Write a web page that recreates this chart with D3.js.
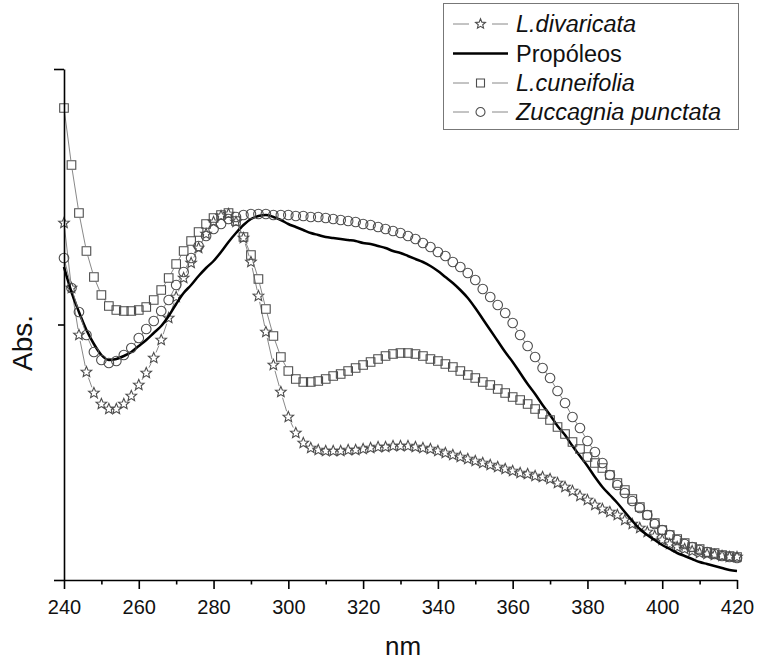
<!DOCTYPE html>
<html>
<head>
<meta charset="utf-8">
<script src="https://cdn.jsdelivr.net/npm/d3@7"></script>
<style>
  body { margin: 0; background: #fff; }
  svg { font-family: "Liberation Sans", Arial, sans-serif; }
</style>
</head>
<body>
<div id="chart"></div>
<script>
// wavelengths (nm), one reading every 2 nm
var wavelengths = d3.range(240, 421, 2);

// absorbance readings (arbitrary units, axis is unlabelled)
var divaricata = [
  1.785, 1.46, 1.225, 1.04, 0.935, 0.88, 0.855, 0.855, 0.88, 0.92,
  0.975, 1.035, 1.11, 1.2, 1.31, 1.415, 1.51, 1.585, 1.66, 1.73,
  1.79, 1.82, 1.83, 1.79, 1.71, 1.59, 1.42, 1.24, 1.075, 0.94,
  0.815, 0.735, 0.685, 0.66, 0.65, 0.645, 0.645, 0.645, 0.65, 0.65,
  0.655, 0.66, 0.665, 0.665, 0.67, 0.67, 0.67, 0.665, 0.66, 0.655,
  0.645, 0.635, 0.625, 0.615, 0.605, 0.595, 0.585, 0.575, 0.565, 0.555,
  0.545, 0.535, 0.53, 0.52, 0.515, 0.505, 0.485, 0.465, 0.445, 0.42,
  0.40, 0.375, 0.355, 0.34, 0.325, 0.30, 0.28, 0.26, 0.24, 0.22,
  0.20, 0.18, 0.165, 0.155, 0.145, 0.135, 0.13, 0.125, 0.12, 0.115,
  0.115
];

var propoleos = [
  1.565, 1.44, 1.34, 1.25, 1.18, 1.125, 1.10, 1.105, 1.12, 1.14,
  1.17, 1.20, 1.235, 1.27, 1.32, 1.38, 1.435, 1.475, 1.52, 1.56,
  1.595, 1.64, 1.69, 1.735, 1.775, 1.805, 1.82, 1.825, 1.815, 1.80,
  1.78, 1.765, 1.75, 1.735, 1.725, 1.715, 1.71, 1.705, 1.70, 1.695,
  1.685, 1.68, 1.67, 1.66, 1.645, 1.635, 1.62, 1.605, 1.59, 1.57,
  1.545, 1.515, 1.485, 1.45, 1.41, 1.36, 1.305, 1.25, 1.195, 1.14,
  1.09, 1.035, 0.98, 0.93, 0.875, 0.825, 0.77, 0.725, 0.67, 0.62,
  0.57, 0.515, 0.465, 0.425, 0.385, 0.34, 0.295, 0.255, 0.225, 0.20,
  0.175, 0.155, 0.135, 0.12, 0.105, 0.09, 0.08, 0.07, 0.06, 0.05,
  0.045
];

var cuneifolia = [
  2.36, 2.075, 1.835, 1.645, 1.515, 1.425, 1.37, 1.35, 1.345, 1.345,
  1.35, 1.365, 1.40, 1.45, 1.51, 1.58, 1.645, 1.695, 1.74, 1.78,
  1.81, 1.825, 1.835, 1.795, 1.715, 1.625, 1.505, 1.355, 1.22, 1.115,
  1.045, 1.005, 0.99, 0.99, 0.995, 1.005, 1.02, 1.03, 1.045, 1.06,
  1.075, 1.09, 1.105, 1.12, 1.13, 1.135, 1.135, 1.13, 1.12, 1.105,
  1.095, 1.08, 1.065, 1.045, 1.025, 1.01, 0.99, 0.975, 0.955, 0.935,
  0.915, 0.90, 0.88, 0.855, 0.83, 0.80, 0.765, 0.73, 0.69, 0.655,
  0.615, 0.585, 0.56, 0.525, 0.485, 0.45, 0.405, 0.365, 0.325, 0.285,
  0.25, 0.225, 0.205, 0.185, 0.165, 0.155, 0.14, 0.135, 0.125, 0.12,
  0.115
];

var zuccagnia = [
  1.61, 1.46, 1.34, 1.225, 1.14, 1.10, 1.085, 1.095, 1.125, 1.16,
  1.21, 1.255, 1.295, 1.345, 1.40, 1.475, 1.54, 1.61, 1.67, 1.72,
  1.755, 1.78, 1.805, 1.815, 1.825, 1.83, 1.83, 1.83, 1.825, 1.825,
  1.825, 1.82, 1.82, 1.815, 1.815, 1.81, 1.805, 1.80, 1.795, 1.79,
  1.78, 1.775, 1.765, 1.755, 1.745, 1.735, 1.72, 1.705, 1.685, 1.665,
  1.64, 1.62, 1.59, 1.565, 1.535, 1.50, 1.455, 1.415, 1.375, 1.335,
  1.285, 1.225, 1.17, 1.115, 1.06, 1.01, 0.945, 0.885, 0.815, 0.76,
  0.695, 0.64, 0.585, 0.525, 0.475, 0.435, 0.395, 0.36, 0.325, 0.28,
  0.25, 0.225, 0.20, 0.18, 0.165, 0.15, 0.14, 0.13, 0.12, 0.115,
  0.11
];

var xMajorTicks = [240, 260, 280, 300, 320, 340, 360, 380, 400, 420];
var xMinorTicks = [250, 270, 290, 310, 330, 350, 370, 390, 410];
var yMajorTicks = [0, 2.555];
var yMinorTicks = [1.2775];

var seriesNames = ["L.divaricata", "Propóleos", "L.cuneifolia", "Zuccagnia punctata"];

// chart size
var svgWidth = 759;
var svgHeight = 661;
var margins = { top: 69, right: 22, bottom: 81, left: 64 };
var width = svgWidth - margins.left - margins.right;
var height = svgHeight - margins.top - margins.bottom;

var svg = d3.select("#chart")
  .append("svg")
  .attr("width", svgWidth)
  .attr("height", svgHeight);

var chartGroup = svg.append("g")
  .attr("transform", `translate(${margins.left}, ${margins.top})`);

var xScale = d3.scaleLinear().domain([240, 420]).range([0, width]);
var yScale = d3.scaleLinear().domain([0, 2.555]).range([height, 0]);

// marker shapes
function starPath(r) {
  var pts = [];
  for (var i = 0; i < 10; i++) {
    var rad = i % 2 === 0 ? r : r * 0.45;
    var a = -Math.PI / 2 + i * Math.PI / 5;
    pts.push([rad * Math.cos(a), rad * Math.sin(a)]);
  }
  return "M" + pts.map(p => p[0].toFixed(2) + "," + p[1].toFixed(2)).join("L") + "Z";
}
function squarePath(r) {
  return `M${-r},${-r}H${r}V${r}H${-r}Z`;
}
function circlePath(r) {
  return `M${r},0A${r},${r} 0 1,1 ${-r},0A${r},${r} 0 1,1 ${r},0Z`;
}

var markerColor = "#4d4d4d";
var lineColor = "#7a7a7a";

// draws line segments between points, leaving a gap around each symbol
function drawSymbolSeries(g, values, shape, gap) {
  var pts = values.map((v, i) => [xScale(wavelengths[i]), yScale(v)]);
  var segs = [];
  for (var i = 0; i < pts.length - 1; i++) {
    var dx = pts[i + 1][0] - pts[i][0], dy = pts[i + 1][1] - pts[i][1];
    var len = Math.sqrt(dx * dx + dy * dy);
    if (len > 2 * gap + 1) {
      var ux = dx / len, uy = dy / len;
      segs.push([pts[i][0] + ux * gap, pts[i][1] + uy * gap,
                 pts[i + 1][0] - ux * gap, pts[i + 1][1] - uy * gap]);
    }
  }
  g.selectAll(null)
    .data(segs)
    .enter()
    .append("line")
    .attr("x1", d => d[0]).attr("y1", d => d[1])
    .attr("x2", d => d[2]).attr("y2", d => d[3])
    .attr("stroke", lineColor)
    .attr("stroke-width", 0.9);

  g.selectAll(null)
    .data(pts)
    .enter()
    .append("path")
    .attr("d", shape)
    .attr("transform", d => `translate(${d[0]}, ${d[1]})`)
    .attr("fill", "none")
    .attr("stroke", markerColor)
    .attr("stroke-width", 1.1);
}

var plotGroup = chartGroup.append("g");

drawSymbolSeries(plotGroup.append("g"), divaricata, starPath(5.6), 6);

var propLine = d3.line()
  .x((d, i) => xScale(wavelengths[i]))
  .y(d => yScale(d))
  .curve(d3.curveMonotoneX);

plotGroup.append("path")
  .datum(propoleos)
  .attr("d", propLine)
  .attr("fill", "none")
  .attr("stroke", "#000")
  .attr("stroke-width", 2.5);

drawSymbolSeries(plotGroup.append("g"), cuneifolia, squarePath(4.3), 5);
drawSymbolSeries(plotGroup.append("g"), zuccagnia, circlePath(4.8), 5);

// axes
var axisStroke = 1.6;

var bottomAxis = d3.axisBottom(xScale)
  .tickValues(xMajorTicks)
  .tickSize(9)
  .tickSizeOuter(0)
  .tickPadding(11)
  .tickFormat(d3.format("d"));

var xAxisGroup = chartGroup.append("g")
  .attr("transform", `translate(0, ${height})`)
  .call(bottomAxis);

chartGroup.append("g")
  .attr("transform", `translate(0, ${height})`)
  .call(d3.axisBottom(xScale).tickValues(xMinorTicks).tickSize(4.5).tickSizeOuter(0).tickFormat(""))
  .select(".domain").remove();

var yAxisGroup = chartGroup.append("g")
  .call(d3.axisLeft(yScale).tickValues(yMajorTicks).tickSize(10).tickSizeOuter(0).tickFormat(""));

chartGroup.append("g")
  .call(d3.axisLeft(yScale).tickValues(yMinorTicks).tickSize(6).tickSizeOuter(0).tickFormat(""))
  .select(".domain").remove();

chartGroup.selectAll(".domain, .tick line")
  .attr("stroke", "#000")
  .attr("stroke-width", axisStroke);

xAxisGroup.selectAll(".tick text")
  .attr("font-size", "20px")
  .attr("font-family", "Liberation Sans, Arial, sans-serif")
  .attr("fill", "#111");

// axis titles
svg.append("text")
  .attr("x", 403)
  .attr("y", 655)
  .attr("text-anchor", "middle")
  .attr("font-size", "26px")
  .attr("fill", "#111")
  .text("nm");

svg.append("text")
  .attr("transform", "translate(32, 343) rotate(-90)")
  .attr("text-anchor", "middle")
  .attr("font-size", "28px")
  .attr("fill", "#111")
  .text("Abs.");

// legend
var legend = svg.append("g");
legend.append("rect")
  .attr("x", 443.5).attr("y", 3.5)
  .attr("width", 295).attr("height", 126)
  .attr("fill", "#fff")
  .attr("stroke", "#777")
  .attr("stroke-width", 1);

var legendShapes = [starPath(5.2), null, squarePath(4), circlePath(4.5)];
var legendRows = [24, 53.5, 83, 112];

seriesNames.forEach(function(name, i) {
  var cy = legendRows[i];
  if (legendShapes[i] === null) {
    legend.append("line")
      .attr("x1", 453).attr("x2", 508)
      .attr("y1", cy).attr("y2", cy)
      .attr("stroke", "#000").attr("stroke-width", 2.5);
  } else {
    legend.append("line")
      .attr("x1", 453).attr("x2", 469).attr("y1", cy).attr("y2", cy)
      .attr("stroke", lineColor).attr("stroke-width", 0.9);
    legend.append("line")
      .attr("x1", 492).attr("x2", 508).attr("y1", cy).attr("y2", cy)
      .attr("stroke", lineColor).attr("stroke-width", 0.9);
    legend.append("path")
      .attr("d", legendShapes[i])
      .attr("transform", `translate(480.5, ${cy})`)
      .attr("fill", "none")
      .attr("stroke", markerColor)
      .attr("stroke-width", 1.1);
  }
  legend.append("text")
    .attr("x", 516)
    .attr("y", cy + 8)
    .attr("font-size", "23.5px")
    .attr("font-style", i === 1 ? "normal" : "italic")
    .attr("fill", "#111")
    .text(name);
});
</script>
</body>
</html>
